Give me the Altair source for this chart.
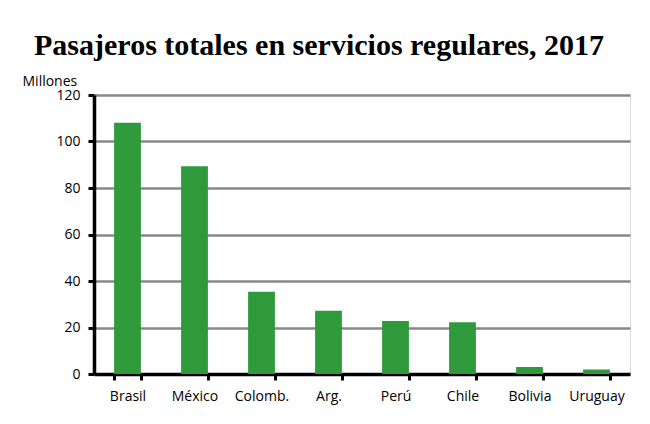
import altair as alt
import pandas as pd

countries = ["Brasil", "México", "Colomb.", "Arg.", "Perú", "Chile", "Bolivia", "Uruguay"]
passengers = [108.1, 89.4, 35.4, 27.2, 22.8, 22.3, 3.0, 1.9]
y_ticks = [0, 20, 40, 60, 80, 100, 120]

df = pd.DataFrame({"pais": countries, "pasajeros": passengers})

chart = alt.Chart(df).mark_bar(color="#2e9a3b").encode(
    x=alt.X("pais:N", sort=countries,
            scale=alt.Scale(paddingInner=0.6, paddingOuter=0.3),
            axis=alt.Axis(title=None, labelAngle=0, tickBand="extent",
                          domainColor="black", domainWidth=3.5,
                          tickColor="black", tickWidth=3, tickSize=6,
                          labelFont="Open Sans", labelFontSize=14, labelColor="black",
                          labelPadding=9, grid=False)),
    y=alt.Y("pasajeros:Q",
            scale=alt.Scale(domain=[0, 120], nice=False),
            axis=alt.Axis(values=y_ticks, title="Millones", titleAngle=0,
                          titleAlign="left", titleBaseline="alphabetic",
                          titleX=-72, titleY=-10, titleFont="Open Sans",
                          titleFontSize=14, titleFontWeight="normal", titleColor="black",
                          domainColor="black", domainWidth=3.5,
                          tickColor="black", tickWidth=3, tickSize=6,
                          labelFont="Open Sans", labelFontSize=14, labelColor="black",
                          labelPadding=8, grid=True, gridColor="#888888", gridWidth=2.3)),
).properties(
    width=536, height=279,
    title=alt.TitleParams("Pasajeros totales en servicios regulares, 2017",
                          font="Liberation Serif", fontSize=30, fontWeight="bold",
                          color="black", anchor="middle", dx=-43,
                          baseline="alphabetic", offset=-11),
    autosize=alt.AutoSizeParams(type="none"),
    padding={"left": 94, "top": 95, "right": 20, "bottom": 50},
).configure_view(stroke=None).configure(background="white")

chart.save("out.html", embed_options={"renderer": "svg", "actions": False})
